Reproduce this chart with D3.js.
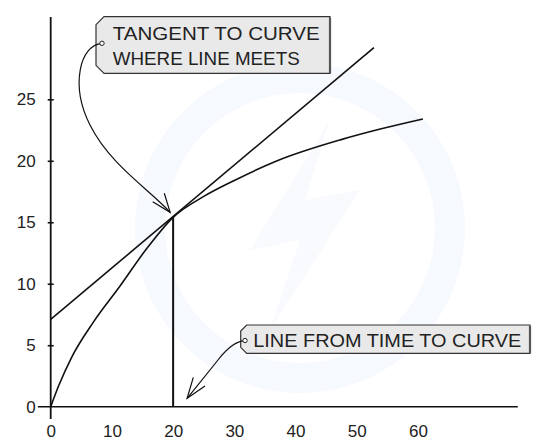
<!DOCTYPE html>
<html>
<head>
<meta charset="utf-8">
<script src="https://cdn.jsdelivr.net/npm/d3@7"></script>
<style>
  body { margin: 0; background: #fff; }
  svg { display: block; font-family: "Liberation Sans", Arial, sans-serif; }
</style>
</head>
<body>
<svg id="chart" width="546" height="445"></svg>
<script>
// values
const CURVE_X = [0, 1.3, 3.4, 7, 11.3, 15.6, 20, 25, 30, 37, 47.3, 54, 60.8];
const CURVE_Y = [0, 1.7, 4.0, 6.9, 9.8, 12.8, 15.4, 17.1, 18.4, 20.0, 21.7, 22.6, 23.4];
const TANGENT_X = [0, 52.8];
const TANGENT_Y = [7.1, 29.2];
const TIME_X = 20;
const TIME_Y = 15.4;
const X_TICKS = [0, 10, 20, 30, 40, 50, 60];
const Y_TICKS = [0, 5, 10, 15, 20, 25];

const svg = d3.select("#chart");

const x = d3.scaleLinear().domain([0, 60]).range([50.7, 418]);
const y = d3.scaleLinear().domain([0, 25]).range([406.7, 99.3]);

// faint watermark behind everything
svg.append("circle")
  .attr("cx", 300).attr("cy", 228).attr("r", 150)
  .attr("fill", "none")
  .attr("stroke", "#f6f9fd")
  .attr("stroke-width", 30);
svg.append("path")
  .attr("d", "M330,120 L250,250 L300,240 L270,330 L360,190 L305,200 Z")
  .attr("fill", "#f8fafd");

// axes lines
svg.append("line")
  .attr("x1", x(0)).attr("x2", x(0))
  .attr("y1", y(31.7)).attr("y2", y(-1))
  .attr("stroke", "#111").attr("stroke-width", 1.8);
svg.append("line")
  .attr("x1", x(-2.1)).attr("x2", x(76.3))
  .attr("y1", y(0)).attr("y2", y(0))
  .attr("stroke", "#111").attr("stroke-width", 1.6);

const yAxis = svg.append("g")
  .attr("transform", `translate(${x(0)},0)`)
  .call(d3.axisLeft(y).tickValues(Y_TICKS).tickSize(3).tickPadding(12));
yAxis.select(".domain").remove();
yAxis.selectAll(".tick line")
  .attr("x1", -3).attr("x2", 3)
  .attr("stroke", "#111").attr("stroke-width", 1.6)
  .filter((d) => d === 0).remove();
yAxis.selectAll(".tick text")
  .style("font-size", "17px").style("font-family", "Liberation Sans, Arial, sans-serif")
  .attr("fill", "#222");

const xAxis = svg.append("g")
  .attr("transform", `translate(0,${y(0)})`)
  .call(d3.axisBottom(x).tickValues(X_TICKS).tickSize(0).tickPadding(18));
xAxis.select(".domain").remove();
xAxis.selectAll(".tick text")
  .style("font-size", "17px").style("font-family", "Liberation Sans, Arial, sans-serif")
  .attr("fill", "#222");

// curve
const curvePts = CURVE_X.map((v, i) => [v, CURVE_Y[i]]);
svg.append("path")
  .datum(curvePts)
  .attr("fill", "none")
  .attr("stroke", "#111")
  .attr("stroke-width", 1.6)
  .attr("d", d3.line().x((d) => x(d[0])).y((d) => y(d[1])).curve(d3.curveMonotoneX));

// tangent
const tanPts = TANGENT_X.map((v, i) => [v, TANGENT_Y[i]]);
svg.append("path")
  .datum(tanPts)
  .attr("fill", "none")
  .attr("stroke", "#111")
  .attr("stroke-width", 1.6)
  .attr("d", d3.line().x((d) => x(d[0])).y((d) => y(d[1])));

// line from time to curve
svg.append("line")
  .attr("x1", x(TIME_X)).attr("x2", x(TIME_X))
  .attr("y1", y(0)).attr("y2", y(TIME_Y))
  .attr("stroke", "#111").attr("stroke-width", 2);

// label tags
function tag(x0, y0, x1, y1, cut) {
  const g = svg.append("g");
  g.append("path")
    .attr("d", `M${x0 + cut},${y0} L${x1},${y0} L${x1},${y1} L${x0 + cut},${y1} L${x0},${y1 - cut} L${x0},${y0 + cut} Z`)
    .attr("fill", "#e9e9e9")
    .attr("stroke", "#333")
    .attr("stroke-width", 1.2);
  g.append("line")
    .attr("x1", x1).attr("x2", x1).attr("y1", y0 + 1).attr("y2", y1)
    .attr("stroke", "#555").attr("stroke-width", 2.2);
  return g;
}

const tag1 = tag(96, 16.7, 330, 73.3, 8);
tag1.append("text").attr("x", 112.7).attr("y", 40)
  .attr("textLength", 207).attr("lengthAdjust", "spacingAndGlyphs")
  .style("font-size", "19px").attr("fill", "#222").text("TANGENT TO CURVE");
tag1.append("text").attr("x", 112.7).attr("y", 65)
  .attr("textLength", 187).attr("lengthAdjust", "spacingAndGlyphs")
  .style("font-size", "19px").attr("fill", "#222").text("WHERE LINE MEETS");

const tag2 = tag(240.7, 325, 530, 353.3, 6);
tag2.append("text").attr("x", 253.3).attr("y", 347.3)
  .attr("textLength", 268).attr("lengthAdjust", "spacingAndGlyphs")
  .style("font-size", "19px").attr("fill", "#222").text("LINE FROM TIME TO CURVE");

// arrows
const arrowStyle = (sel) => sel.attr("fill", "none").attr("stroke", "#111").attr("stroke-width", 1.2);

const tip1 = [x(TIME_X) - 3, y(TIME_Y) - 5];
svg.append("path").call(arrowStyle)
  .attr("d", `M102,43.3 C80,45 70,85 90,125 S150,190 ${tip1[0]},${tip1[1]}`);
svg.append("path").call(arrowStyle)
  .attr("d", `M152.7,201.7 L${tip1[0]},${tip1[1]} L164.3,193.3`);

const tip2 = [x(TIME_X) + 14, y(0) - 8.4];
svg.append("path").call(arrowStyle)
  .attr("d", `M244.3,340.7 Q232,342 218,360 L${tip2[0]},${tip2[1]}`);
svg.append("path").call(arrowStyle)
  .attr("d", `M193.3,377.3 L${tip2[0]},${tip2[1]} L205,386`);

// tag holes
[[102, 43.3], [245, 340.5]].forEach(([cx, cy]) => {
  svg.append("circle").attr("cx", cx).attr("cy", cy).attr("r", 2.2)
    .attr("fill", "#fff").attr("stroke", "#222").attr("stroke-width", 1);
});
</script>
</body>
</html>
